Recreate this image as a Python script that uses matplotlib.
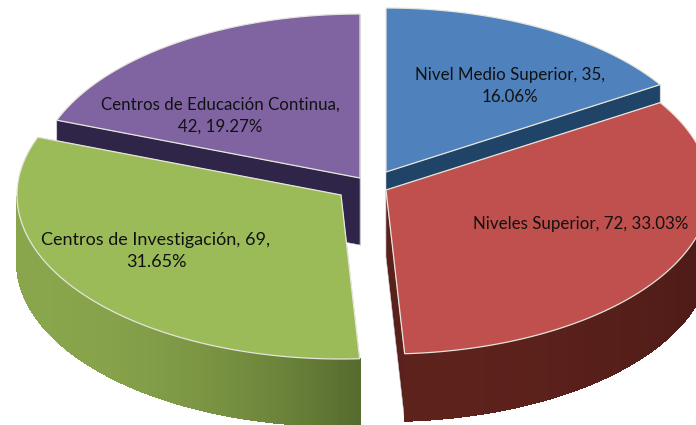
import numpy as np
import matplotlib
matplotlib.use("Agg")
import matplotlib.pyplot as plt
from matplotlib.patches import Polygon
from matplotlib.colors import to_rgb

names = ["Nivel Medio Superior", "Niveles Superior", "Centros de Investigación", "Centros de Educación Continua"]
values = [35, 72, 69, 42]
percents = ["16.06%", "33.03%", "31.65%", "19.27%"]
top_colors = ["#4f81bd", "#c0504d", "#9bbb59", "#8064a2"]
wall_colors = ["#1f4468", "#5a201b", "#566b2e", "#2f2548"]
rim_left = ["#2c5a8c", "#5e221c", "#8aa64c", "#4a3a66"]
rim_right = ["#2c5a8c", "#4e1b17", "#566b2e", "#4a3a66"]
# apex of each exploded slice, in pixels
centers = [(386, 172), (386, 190), (341, 195), (360, 178)]
label_text = ["Nivel Medio Superior, 35,\n16.06%", "Niveles Superior, 72, 33.03%",
              "Centros de Investigación, 69,\n31.65%", "Centros de Educación Continua,\n42, 19.27%"]
label_pos = [(510, 86), (581, 224), (156, 251), (220, 116)]
label_size = [12.2, 12.2, 13.0, 12.2]

rx, ry, depth = 324, 164, 67

plt.rcParams['font.family'] = ['Lato', 'DejaVu Sans']
fig = plt.figure(figsize=(6.96, 4.25), dpi=100)
ax = fig.add_axes([0, 0, 1, 1])
ax.set_xlim(0, 696)
ax.set_ylim(425, 0)
ax.axis("off")

def ell(c, t):
    return c[0] + rx * np.sin(t), c[1] - ry * np.cos(t)

angles = np.radians(np.cumsum([0] + values) / sum(values) * 360)

# back slices first so the front ones cover their walls
z = 0
for i in [0, 3, 1, 2]:
    c = centers[i]
    t0, t1 = angles[i], angles[i + 1]
    ts = np.linspace(t0, t1, 200)
    x, y = ell(c, ts)
    z += 1

    # side walls of the cut
    for t in (t0, t1):
        ex, ey = ell(c, t)
        wall = [(c[0], c[1]), (ex, ey), (ex, ey + depth), (c[0], c[1] + depth)]
        ax.add_patch(Polygon(wall, closed=True, fc=wall_colors[i], ec="#c8c8d0", lw=0.4, zorder=z))

    # outer rim, front half only
    front = ts[(ts > np.pi / 2) & (ts < 3 * np.pi / 2)]
    if len(front) > 1:
        a = np.array(to_rgb(rim_left[i]))
        b = np.array(to_rgb(rim_right[i]))
        fx, fy = ell(c, front)
        for k in range(len(front) - 1):
            # colour runs with screen x, dark towards the centre for green
            s = (fx[k] - fx.min()) / (fx.max() - fx.min())
            col = a + (b - a) * s ** 2
            quad = [(fx[k], fy[k]), (fx[k + 1], fy[k + 1]),
                    (fx[k + 1], fy[k + 1] + depth), (fx[k], fy[k] + depth)]
            ax.add_patch(Polygon(quad, closed=True, fc=col, ec=col, lw=0.8, zorder=z,
                                 antialiased=False))

    top = [(c[0], c[1])] + list(zip(x, y))
    ax.add_patch(Polygon(top, closed=True, fc=top_colors[i], ec="#e6e4dc", lw=0.9, zorder=z + 0.5))

for i in range(4):
    ax.text(label_pos[i][0], label_pos[i][1], label_text[i], ha="center", va="center",
            fontsize=label_size[i], color="#111111", linespacing=1.45, zorder=10)

fig.savefig("out.png", dpi=100)
